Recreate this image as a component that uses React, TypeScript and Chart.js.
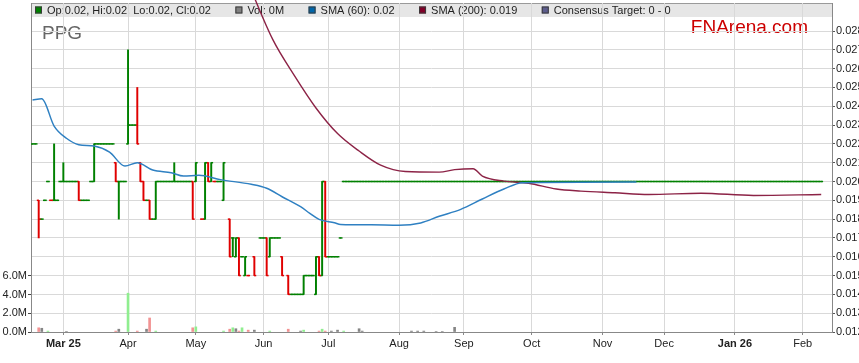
import React, { useEffect, useRef } from 'react';
import { Chart, registerables } from 'chart.js';

Chart.register(...registerables);

const FONT = '"Liberation Sans", Arial, Helvetica, sans-serif';

// ---- calendar (trading days = weekdays) ----
const START_DATE = '2025-02-17';
const DAY_COUNT = 260;

const xTickDates = ['2025-03-03', '2025-04-01', '2025-05-01', '2025-06-02', '2025-07-01', '2025-08-01',
  '2025-09-01', '2025-10-01', '2025-11-03', '2025-12-01', '2026-01-01', '2026-02-02'];
const xTickLabels = ['Mar 25', 'Apr', 'May', 'Jun', 'Jul', 'Aug', 'Sep', 'Oct', 'Nov', 'Dec', 'Jan 26', 'Feb'];

const priceTicks = [0.012, 0.013, 0.014, 0.015, 0.016, 0.017, 0.018, 0.019, 0.020, 0.021, 0.022, 0.023,
  0.024, 0.025, 0.026, 0.027, 0.028];
const volumeTicks = [0, 2, 4, 6];

const stockCode = 'PPG';
const brand = 'FNArena.com';
const legendItems = ['Op:0.02, Hi:0.02, Lo:0.02, Cl:0.02', 'Vol: 0M', 'SMA (60): 0.02', 'SMA (200): 0.019', 'Consensus Target: 0 - 0'];

// ---- daily prices, index = trading day from START_DATE (null = no trade) ----
const closes: (number | null)[] = [
  0.022, 0.022, 0.018, 0.018, 0.019, 0.020, 0.019, 0.019, 0.019, 0.020,
  0.020, 0.020, 0.020, 0.020, 0.020, 0.019, 0.019, 0.019, 0.019, 0.020,
  0.022, 0.022, 0.022, 0.022, 0.022, 0.022, 0.022, 0.020, 0.020, 0.020,
  0.020, 0.023, 0.023, 0.023, 0.022, 0.020, 0.019, 0.019, 0.018, 0.018,
  0.020, 0.020, 0.020, 0.020, 0.020, 0.020, 0.020, 0.020, 0.020, 0.020,
  0.020, 0.020, 0.018, 0.021, null, 0.018, 0.021, 0.020, 0.021, 0.020,
  0.020, 0.020, 0.021, null, 0.016, 0.017, 0.017, 0.015, 0.016, 0.016,
  0.015, null, 0.015, null, 0.017, 0.017, 0.015, 0.017, 0.017, 0.017,
  0.017, 0.015, null, 0.014, 0.014, 0.014, 0.014, 0.014, 0.015, 0.015,
  0.015, 0.015, 0.016, 0.015, 0.020, 0.016, 0.016, 0.016, 0.016, 0.016,
  0.017,
  0.020, 0.020, 0.020, 0.020, 0.020, 0.020, 0.020, 0.020, 0.020, 0.020, 0.020, 0.020, 0.020,
  0.020, 0.020, 0.020, 0.020, 0.020, 0.020, 0.020, 0.020, 0.020, 0.020, 0.020, 0.020, 0.020,
  0.020, 0.020, 0.020, 0.020, 0.020, 0.020, 0.020, 0.020, 0.020, 0.020, 0.020, 0.020, 0.020,
  0.020, 0.020, 0.020, 0.020, 0.020, 0.020, 0.020, 0.020, 0.020, 0.020, 0.020, 0.020, 0.020,
  0.020, 0.020, 0.020, 0.020, 0.020, 0.020, 0.020, 0.020, 0.020, 0.020, 0.020, 0.020, 0.020,
  0.020, 0.020, 0.020, 0.020, 0.020, 0.020, 0.020, 0.020, 0.020, 0.020, 0.020, 0.020, 0.020,
  0.020, 0.020, 0.020, 0.020, 0.020, 0.020, 0.020, 0.020, 0.020, 0.020, 0.020, 0.020, 0.020,
  0.020, 0.020, 0.020, 0.020, 0.020, 0.020, 0.020, 0.020, 0.020, 0.020, 0.020, 0.020, 0.020,
  0.020, 0.020, 0.020, 0.020, 0.020, 0.020, 0.020, 0.020, 0.020, 0.020, 0.020, 0.020, 0.020,
  0.020, 0.020, 0.020, 0.020, 0.020, 0.020, 0.020, 0.020, 0.020, 0.020, 0.020, 0.020, 0.020,
  0.020, 0.020, 0.020, 0.020, 0.020, 0.020, 0.020, 0.020, 0.020, 0.020, 0.020, 0.020, 0.020,
  0.020, 0.020, 0.020, 0.020, 0.020, 0.020, 0.020, 0.020, 0.020, 0.020, 0.020, 0.020, 0.020,
];
// open / high / low where they differ from the close (days beyond these lists are flat)
const opens: (number | null)[] = [
  0.022, 0.022, 0.019, 0.018, 0.019, 0.020, 0.019, 0.019, 0.019, 0.020,
  0.020, 0.020, 0.020, 0.020, 0.020, 0.020, 0.019, 0.019, 0.019, 0.020,
  0.020, 0.022, 0.022, 0.022, 0.022, 0.022, 0.022, 0.021, 0.020, 0.020,
  0.020, 0.022, 0.023, 0.023, 0.023, 0.021, 0.020, 0.019, 0.019, 0.018,
  0.018, 0.020, 0.020, 0.020, 0.020, 0.020, 0.020, 0.020, 0.020, 0.020,
  0.020, 0.020, 0.020, 0.020, null, 0.018, 0.018, 0.021, 0.020, 0.020,
  0.020, 0.020, 0.019, null, 0.018, 0.017, 0.016, 0.017, 0.016, 0.015,
  0.015, null, 0.016, null, 0.017, 0.017, 0.017, 0.016, 0.017, 0.017,
  0.017, 0.016, null, 0.015, 0.014, 0.014, 0.014, 0.014, 0.014, 0.015,
  0.015, 0.015, 0.014, 0.016, 0.015, 0.020, 0.016, 0.016, 0.016, 0.016,
  0.017,
];
const highs: (number | null)[] = [
  0.022, 0.022, 0.019, 0.018, 0.019, 0.020, 0.019, 0.022, 0.019, 0.020,
  0.021, 0.020, 0.020, 0.020, 0.020, 0.020, 0.019, 0.019, 0.019, 0.020,
  0.022, 0.022, 0.022, 0.022, 0.022, 0.022, 0.022, 0.021, 0.020, 0.020,
  0.020, 0.027, 0.023, 0.023, 0.025, 0.021, 0.020, 0.019, 0.019, 0.018,
  0.020, 0.020, 0.020, 0.020, 0.020, 0.020, 0.021, 0.020, 0.020, 0.020,
  0.020, 0.020, 0.020, 0.021, null, 0.018, 0.021, 0.021, 0.021, 0.020,
  0.020, 0.020, 0.021, null, 0.018, 0.017, 0.017, 0.017, 0.016, 0.016,
  0.015, null, 0.016, null, 0.017, 0.017, 0.017, 0.017, 0.017, 0.017,
  0.017, 0.016, null, 0.015, 0.014, 0.014, 0.014, 0.014, 0.015, 0.015,
  0.015, 0.015, 0.016, 0.016, 0.020, 0.020, 0.016, 0.016, 0.016, 0.016,
  0.017,
];
const lows: (number | null)[] = [
  0.022, 0.022, 0.017, 0.018, 0.019, 0.020, 0.019, 0.019, 0.019, 0.020,
  0.020, 0.020, 0.020, 0.020, 0.020, 0.019, 0.019, 0.019, 0.019, 0.020,
  0.020, 0.022, 0.022, 0.022, 0.022, 0.022, 0.022, 0.020, 0.018, 0.020,
  0.020, 0.022, 0.023, 0.023, 0.022, 0.020, 0.019, 0.019, 0.018, 0.018,
  0.018, 0.020, 0.020, 0.020, 0.020, 0.020, 0.020, 0.020, 0.020, 0.020,
  0.020, 0.020, 0.018, 0.020, null, 0.018, 0.018, 0.020, 0.020, 0.020,
  0.020, 0.020, 0.019, null, 0.016, 0.016, 0.016, 0.015, 0.016, 0.015,
  0.015, null, 0.015, null, 0.017, 0.017, 0.015, 0.016, 0.017, 0.017,
  0.017, 0.015, null, 0.014, 0.014, 0.014, 0.014, 0.014, 0.014, 0.015,
  0.015, 0.015, 0.014, 0.015, 0.015, 0.016, 0.016, 0.016, 0.016, 0.016,
  0.017,
];

// ---- volume (millions) on the trading days that had one ----
const volumeDays = [2, 3, 5, 11, 27, 28, 31, 34, 37, 38, 40, 52, 53, 62, 64, 65, 66, 67, 68, 70, 72, 77, 83, 87, 88,
  93, 94, 95, 97, 99, 101, 106, 107, 123, 125, 127, 131, 133, 137];
const volumesM = [0.45, 0.4, 0.1, 0.05, 0.1, 0.3, 4.15, 0.1, 0.3, 1.5, 0.1, 0.45, 0.55, 0.1, 0.3, 0.45, 0.35, 0.1, 0.45, 0.2,
  0.2, 0.1, 0.3, 0.1, 0.2, 0.1, 0.3, 0.1, 0.1, 0.2, 0.1, 0.35, 0.1, 0.1, 0.1, 0.1, 0.05, 0.05, 0.5];

// ---- moving averages (trading day, value) ----
const sma60Days = [0, 3, 7, 11, 15, 20, 25, 30, 34, 39, 45, 49, 54, 61, 71, 76, 81, 87, 90, 93, 98, 100, 110, 119, 126,
  132, 139, 146, 153, 159, 196];
const sma60 = [0.02433, 0.0244, 0.02295, 0.0223, 0.02196, 0.02189, 0.02156, 0.02082, 0.021, 0.02061, 0.02047, 0.02029,
  0.02033, 0.0201, 0.01985, 0.01964, 0.01919, 0.01866, 0.01831, 0.01799, 0.01781, 0.01772, 0.0177, 0.01768, 0.0178,
  0.01815, 0.01852, 0.01907, 0.0196, 0.01994, 0.01998];
const sma200Days = [70, 78, 85, 92, 99, 106, 113, 121, 132, 137, 143, 146, 153, 161, 170, 178, 189, 200, 217, 234, 256];
const sma200 = [0.03055, 0.02754, 0.02563, 0.02391, 0.02255, 0.02162, 0.02087, 0.02053, 0.0205, 0.02063, 0.02068,
  0.02029, 0.02002, 0.01991, 0.0196, 0.01949, 0.0194, 0.01931, 0.01938, 0.01926, 0.01931];

// ---- colours ----
const UP = '#008000';
const DOWN = '#e00000';
const VOL_UP = '#90ee90';
const VOL_DOWN = '#f29393';
const VOL_FLAT = '#858585';
const SMA60_COLOR = '#2f80c2';
const SMA200_COLOR = '#8c2346';
const legendColors = ['#008000', '#808080', '#0066aa', '#800028', '#5c5c8c'];

function tradingIndex(dateStr: string): number {
  const start = new Date(START_DATE + 'T00:00:00Z');
  const end = new Date(dateStr + 'T00:00:00Z');
  let n = 0;
  for (const t = new Date(start); t < end; t.setUTCDate(t.getUTCDate() + 1)) {
    const wd = t.getUTCDay();
    if (wd !== 0 && wd !== 6) n++;
  }
  return n;
}

function buildDatasets() {
  const openPts: any[] = [], closePts: any[] = [], hlBars: any[] = [];
  const openCols: string[] = [], closeCols: string[] = [], hlCols: string[] = [];
  const dirByDay: Record<number, number> = {};
  let prev: number | null = null;
  closes.forEach((c, i) => {
    if (c == null) return;
    const o = opens[i] ?? c;
    const h = highs[i] ?? c;
    const l = lows[i] ?? c;
    const down = c < o || (c === o && prev != null && c < prev);
    const col = down ? DOWN : UP;
    openPts.push({ x: i - 0.25, y: o }); openCols.push(col);
    closePts.push({ x: i + 0.25, y: c }); closeCols.push(col);
    if (h > l) { hlBars.push({ x: i, y: [l, h] }); hlCols.push(col); }
    dirByDay[i] = prev == null ? 0 : Math.sign(c - prev);
    prev = c;
  });
  const volPts = volumeDays.map((d, i) => ({ x: d, y: volumesM[i] }));
  const volCols = volumeDays.map((d) => (dirByDay[d] > 0 ? VOL_UP : dirByDay[d] < 0 ? VOL_DOWN : VOL_FLAT));
  const tickRadius = (ctx: any) => {
    const s = ctx.chart.scales.x;
    return s ? Math.abs(s.getPixelForValue(1) - s.getPixelForValue(0)) / 4 + 0.35 : 1.1;
  };
  return [
    {
      type: 'line', label: 'SMA (60)', yAxisID: 'y', xAxisID: 'x',
      data: sma60Days.map((d, i) => ({ x: d, y: sma60[i] })),
      borderColor: SMA60_COLOR, borderWidth: 1.5, pointRadius: 0, cubicInterpolationMode: 'monotone', fill: false,
    },
    {
      type: 'line', label: 'SMA (200)', yAxisID: 'y', xAxisID: 'x', clip: false,
      data: sma200Days.map((d, i) => ({ x: d, y: sma200[i] })),
      borderColor: SMA200_COLOR, borderWidth: 1.4, pointRadius: 0, cubicInterpolationMode: 'monotone', fill: false,
    },
    {
      type: 'scatter', label: 'close', yAxisID: 'y', xAxisID: 'x', data: closePts,
      pointStyle: 'line', pointRadius: tickRadius, pointBorderWidth: 1.5, pointBorderColor: closeCols,
      pointBackgroundColor: closeCols, pointHoverRadius: tickRadius,
    },
    {
      type: 'scatter', label: 'open', yAxisID: 'y', xAxisID: 'x', data: openPts,
      pointStyle: 'line', pointRadius: tickRadius, pointBorderWidth: 1.5, pointBorderColor: openCols,
      pointBackgroundColor: openCols, pointHoverRadius: tickRadius,
    },
    {
      type: 'bar', label: 'high-low', yAxisID: 'y', xAxisID: 'x', data: hlBars,
      backgroundColor: hlCols, borderWidth: 0, barThickness: 1.3, grouped: false,
    },
    {
      type: 'bar', label: 'Vol', yAxisID: 'yv', xAxisID: 'x', data: volPts,
      backgroundColor: volCols, borderWidth: 0, barThickness: 2, grouped: false,
    },
  ];
}

const decorPlugin = {
  id: 'decor',
  beforeDraw(chart: any) {
    const { ctx, chartArea: a } = chart;
    ctx.save();
    ctx.fillStyle = '#e6e6e6';
    ctx.fillRect(a.left, a.top, a.right - a.left, 14);
    ctx.strokeStyle = '#9a9a9a';
    ctx.lineWidth = 1;
    ctx.beginPath();
    ctx.moveTo(a.left, a.top + 0.5);
    ctx.lineTo(a.right, a.top + 0.5);
    ctx.stroke();
    ctx.font = `11px ${FONT}`;
    ctx.textBaseline = 'alphabetic';
    let x = a.left + 4;
    legendItems.forEach((label, i) => {
      ctx.fillStyle = legendColors[i];
      ctx.fillRect(x, a.top + 3.5, 7, 7);
      ctx.strokeStyle = '#3a3a3a';
      ctx.strokeRect(x + 0.5, a.top + 4, 6, 6);
      ctx.fillStyle = '#222';
      ctx.fillText(label, x + 12, a.top + 11);
      x += 12 + ctx.measureText(label).width + 24.5;
    });
    ctx.font = `19px ${FONT}`;
    ctx.fillStyle = '#666';
    ctx.textAlign = 'left';
    ctx.fillText(stockCode, a.left + 11, a.top + 36);
    ctx.fillStyle = '#cc0000';
    ctx.textAlign = 'right';
    ctx.fillText(brand, a.right - 24, a.top + 30);
    ctx.restore();
  },
};

export default function App() {
  const ref = useRef<HTMLCanvasElement>(null);
  useEffect(() => {
    const canvas = ref.current;
    if (!canvas) return;
    const xTickIdx = xTickDates.map(tradingIndex);
    const noPadV = (s: any, w: number) => { s.width = w; s.paddingTop = 0; s.paddingBottom = 0; };
    const chart = new Chart(canvas, {
      type: 'scatter',
      data: { datasets: buildDatasets() as any },
      plugins: [decorPlugin],
      options: {
        responsive: false,
        devicePixelRatio: 1,
        animation: false,
        events: [],
        layout: { padding: { top: 3, left: 0, right: 0, bottom: 0 } },
        plugins: { legend: { display: false }, tooltip: { enabled: false } },
        scales: {
          x: {
            type: 'linear', min: -0.5, max: DAY_COUNT - 0.5, offset: false,
            afterBuildTicks: (s: any) => { s.ticks = xTickIdx.map((v) => ({ value: v })); },
            afterFit: (s: any) => { s.height = 31; s.paddingLeft = 0; s.paddingRight = 0; },
            grid: { color: '#d9d9d9', lineWidth: 1, offset: false, drawTicks: true, tickLength: 3, tickColor: '#888' },
            border: { display: true, color: '#888', width: 1 },
            ticks: {
              autoSkip: false, maxRotation: 0, minRotation: 0, padding: 2, color: '#222',
              font: (c: any) => ({ family: FONT, size: 11, weight: (xTickLabels[c.index] || '').includes(' ') ? 'bold' : 'normal' }),
              callback: (_v: any, i: number) => xTickLabels[i],
            },
          },
          y: {
            type: 'linear', position: 'right', min: 0.012, max: 0.02949,
            afterBuildTicks: (s: any) => { s.ticks = priceTicks.map((v) => ({ value: v })); },
            afterFit: (s: any) => noPadV(s, 27),
            grid: { color: '#d9d9d9', lineWidth: 1, drawTicks: true, tickLength: 3, tickColor: '#555' },
            border: { display: true, color: '#888', width: 1 },
            ticks: { padding: 1, color: '#222', font: { family: FONT, size: 11 }, callback: (v: any) => Number(v).toFixed(3) },
          },
          yv: {
            type: 'linear', position: 'left', min: 0, max: 35.2,
            afterBuildTicks: (s: any) => { s.ticks = volumeTicks.map((v) => ({ value: v })); },
            afterFit: (s: any) => noPadV(s, 31),
            grid: { drawOnChartArea: false, drawTicks: true, tickLength: 3, tickColor: '#444' },
            border: { display: true, color: '#888', width: 1 },
            ticks: { padding: 1, color: '#222', font: { family: FONT, size: 11 }, callback: (v: any) => Number(v).toFixed(1) + 'M' },
          },
        },
      } as any,
    });
    return () => chart.destroy();
  }, []);
  return (
    <div style={{ position: 'absolute', left: 0, top: 0, width: 859, height: 363, background: '#fff' }}>
      <canvas ref={ref} width={859} height={363} style={{ display: 'block', width: 859, height: 363 }} />
    </div>
  );
}
